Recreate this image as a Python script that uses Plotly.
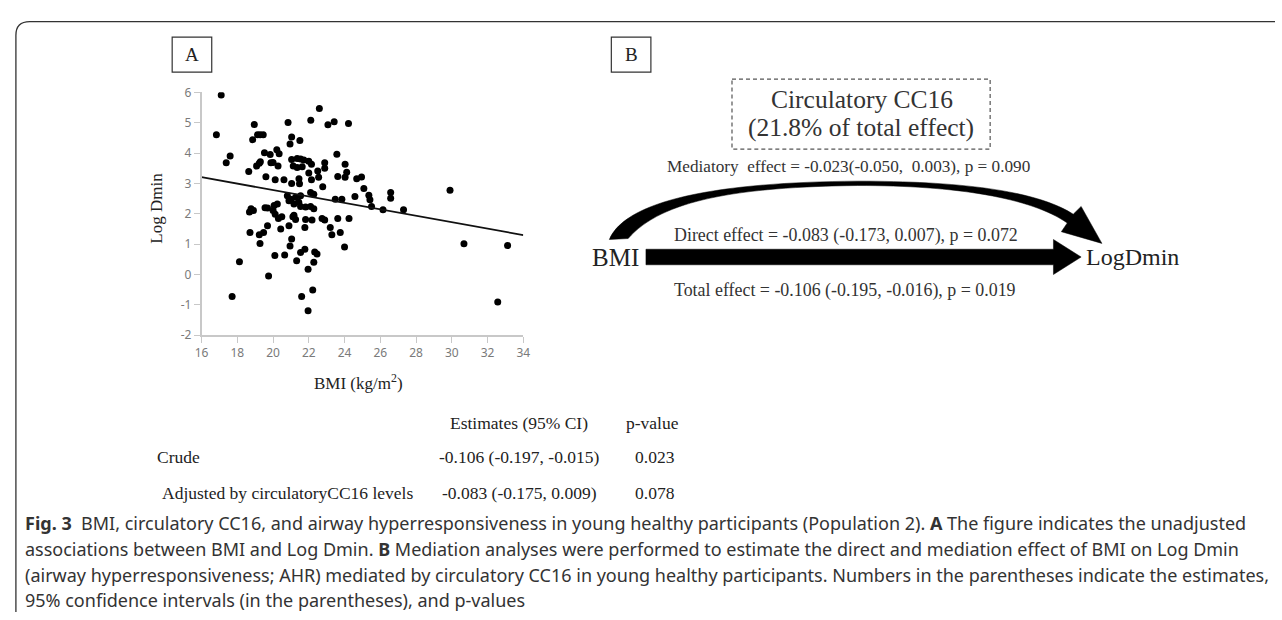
import plotly.graph_objects as go

W, H = 1282, 620

# ---------------- data ----------------
bmi = [17.1, 16.83, 18.95, 18.86, 19.13, 19.28, 19.45, 20.84, 21.04, 20.95, 21.5, 22.11, 22.59, 23.07, 23.42, 24.22,
       17.38, 17.6, 18.64, 19.08, 19.23, 19.29, 19.52, 19.84, 20.21, 20.34, 19.88, 20.0, 20.28, 21.04, 21.35, 21.54,
       21.72, 21.13, 21.35, 21.63, 22.0, 22.15, 23.57, 19.6, 20.12, 20.61, 21.04, 21.45, 21.48, 22.0, 22.15, 22.5,
       22.89, 22.89, 22.55, 24.03, 24.12, 24.03, 23.62, 24.68, 24.95, 22.78, 25.08, 25.36, 25.42, 24.58, 26.58, 26.58,
       22.1, 22.28, 21.54, 23.48, 23.85, 25.51, 26.15, 27.3, 22.28, 21.82, 29.9, 30.68, 33.12, 32.57,
       20.8, 20.99, 21.26, 21.44, 21.17, 20.89, 18.77, 18.68, 19.69, 20.06, 20.24, 18.9, 19.55, 20.0, 20.12, 20.3,
       20.49, 21.17, 21.26, 21.11, 21.82, 21.78, 21.54, 19.69, 18.71, 19.23, 19.47, 19.27, 20.43, 20.89, 21.04, 20.95,
       20.1, 20.65, 21.54, 21.78, 21.32, 18.12, 19.75, 17.71, 21.6, 21.96, 21.96, 22.1, 22.18, 22.74, 22.89, 23.62,
       24.25, 23.2, 23.76, 23.29, 24.0, 22.33, 22.46, 22.28, 22.22]
log_dmin = [5.91, 4.6, 4.94, 4.44, 4.6, 4.6, 4.6, 5.01, 4.53, 4.3, 4.41, 5.08, 5.47, 4.93, 5.03, 4.97,
            3.68, 3.9, 3.39, 3.57, 3.66, 3.71, 4.01, 3.95, 4.11, 3.98, 3.68, 3.69, 3.57, 3.79, 3.82, 3.8,
            3.77, 3.57, 3.52, 3.55, 3.73, 3.63, 3.96, 3.22, 3.12, 3.12, 3.0, 3.15, 2.99, 3.34, 3.12, 3.41,
            3.68, 3.5, 3.2, 3.63, 3.37, 3.2, 3.23, 3.15, 3.21, 2.89, 2.83, 2.61, 2.46, 2.57, 2.7, 2.51,
            2.7, 2.64, 2.59, 2.48, 2.48, 2.24, 2.13, 2.13, 2.16, 2.22, 2.77, 1.01, 0.95, -0.91,
            2.59, 2.48, 2.54, 2.38, 2.32, 2.43, 2.16, 2.06, 2.19, 2.27, 2.32, 2.11, 2.2, 2.11, 1.98, 1.84,
            1.9, 1.95, 1.81, 1.9, 1.81, 1.55, 2.24, 1.6, 1.38, 1.31, 1.38, 1.02, 1.5, 1.6, 1.17, 0.94,
            0.62, 0.64, 0.72, 0.83, 0.45, 0.42, -0.05, -0.73, -0.73, 0.17, -1.2, 2.24, 1.79, 1.84, 1.79, 1.84,
            1.84, 1.55, 1.38, 1.31, 0.9, 0.74, 0.67, 0.4, -0.51]

fit_intercept = 4.90
fit_slope = -0.106
x_ticks = [16, 18, 20, 22, 24, 26, 28, 30, 32, 34]
y_ticks = [-2, -1, 0, 1, 2, 3, 4, 5, 6]
y_tick_labels = ["-2", "-1", "0", "1", "2", "3", "4", "5", "6"]

table_header = ["Estimates (95% CI)", "p-value"]
table_rows = ["Crude", "Adjusted by circulatoryCC16 levels"]
table_est = ["-0.106 (-0.197, -0.015)", "-0.083 (-0.175, 0.009)"]
table_p = ["0.023", "0.078"]

mediator_lines = ["Circulatory CC16", "(21.8% of total effect)"]
mediatory_txt = "Mediatory  effect = -0.023(-0.050,  0.003), p = 0.090"
direct_txt = "Direct effect = -0.083 (-0.173, 0.007), p = 0.072"
total_txt = "Total effect = -0.106 (-0.195, -0.016), p = 0.019"

caption = [
    "<b>Fig. 3</b>  BMI, circulatory CC16, and airway hyperresponsiveness in young healthy participants (Population 2). <b>A</b> The figure indicates the unadjusted",
    "associations between BMI and Log Dmin. <b>B</b> Mediation analyses were performed to estimate the direct and mediation effect of BMI on Log Dmin",
    "(airway hyperresponsiveness; AHR) mediated by circulatory CC16 in young healthy participants. Numbers in the parentheses indicate the estimates,",
    "95% confidence intervals (in the parentheses), and p-values",
]

# ---------------- helpers ----------------
def fx(x):
    return x / W

def fy(y):
    return 1 - y / H

def path(cmds):
    out = []
    for c, pts in cmds:
        s = c
        if pts:
            s += " " + " ".join(f"{fx(x):.5f},{fy(y):.5f}" for x, y in pts)
        out.append(s)
    return " ".join(out)

SERIF = "Liberation Serif, Times New Roman, serif"
SANS = "Noto Sans, Open Sans, sans-serif"
TXT = "#222"

fig = go.Figure()

fig.add_trace(go.Scatter(x=bmi, y=log_dmin, mode="markers",
                         marker=dict(color="black", size=7), hoverinfo="skip"))
lx0, lx1 = x_ticks[0], x_ticks[-1]
fig.add_trace(go.Scatter(x=[lx0, lx1], y=[fit_intercept + fit_slope * lx0, fit_intercept + fit_slope * lx1],
                         mode="lines", line=dict(color="#111", width=1.8), hoverinfo="skip"))

x_left, x_right = 196.7, 522.0
y_top, y_bot = 85.7, 335.3

axis_common = dict(showline=True, linecolor="#c8c8c8", linewidth=1.5, ticks="outside", ticklen=6,
                   tickcolor="#c8c8c8", tickwidth=1.2, showgrid=False, zeroline=False,
                   tickfont=dict(family=SANS, size=12, color="#7a7a7a"), fixedrange=True)

fig.update_layout(
    width=W, height=H, margin=dict(l=0, r=0, t=0, b=0),
    paper_bgcolor="white", plot_bgcolor="rgba(0,0,0,0)", showlegend=False,
    xaxis=dict(domain=[fx(x_left), fx(x_right)], range=[16, 34], tickvals=x_ticks, **axis_common),
    yaxis=dict(domain=[fy(y_bot), fy(y_top)], range=[-2, 6], tickvals=y_ticks, ticktext=y_tick_labels,
               **axis_common),
)

shapes = []
annots = []

def txt(x, y, s, size, family=SERIF, color=TXT, xanchor="center", **kw):
    annots.append(dict(x=fx(x), y=fy(y), xref="paper", yref="paper", text=s, showarrow=False,
                       xanchor=xanchor, yanchor="middle", font=dict(family=family, size=size, color=color), **kw))

# outer frame
shapes.append(dict(type="path", xref="paper", yref="paper",
                   path=path([("M", [(9, 620)]), ("L", [(9, 27)]), ("Q", [(9, 13), (23, 13)]), ("L", [(1282, 13)])]),
                   line=dict(color="#333", width=1.3)))

# panel labels
for (x0, lab) in [(167, "A"), (611, "B")]:
    shapes.append(dict(type="rect", xref="paper", yref="paper", x0=fx(x0), x1=fx(x0 + 40), y0=fy(29), y1=fy(65),
                       line=dict(color="#333", width=1.2)))
    txt(x0 + 20, 47, lab, 19)

# axis titles
txt(151, 205, "Log Dmin", 17, textangle=-90)
txt(355, 384, "BMI (kg/m<sup>2</sup>)", 17)

# table
txt(518, 426, table_header[0], 17.5)
txt(653, 426, table_header[1], 17.5)
row_y = [461, 498]
for i in range(2):
    txt(150 if i == 0 else 155, row_y[i], table_rows[i], 17.5, xanchor="left")
    txt(518, row_y[i], table_est[i], 17.5)
    txt(655, row_y[i], table_p[i], 17.5)

# panel B
shapes.append(dict(type="rect", xref="paper", yref="paper", x0=fx(733), x1=fx(994), y0=fy(72), y1=fy(144),
                   line=dict(color="#555", width=1.2, dash="4px,3px")))
txt(864, 93, mediator_lines[0], 25.5, color="#333")
txt(863, 122, mediator_lines[1], 25.5, color="#333")
txt(851, 162, mediatory_txt, 17.2, color="#333")
txt(848, 233, direct_txt, 17.9, color="#333")
txt(847, 289, total_txt, 17.9, color="#333")
txt(615, 255, "BMI", 25, color="#222")
txt(1089, 255, "LogDmin", 24, color="#222", xanchor="left")

# curved arrow (filled, tapered)
shapes.append(dict(type="path", xref="paper", yref="paper",
                   path=path([("M", [(609, 237)]),
                              ("C", [(626, 196), (720, 178), (860, 177)]),
                              ("C", [(960, 177), (1040, 186), (1078, 211)]),
                              ("L", [(1086, 203)]), ("L", [(1107, 241)]), ("L", [(1066, 229)]), ("L", [(1072, 220)]),
                              ("C", [(1035, 194), (960, 181.5), (860, 181.5)]),
                              ("C", [(740, 183), (662, 196), (628, 236)]),
                              ("Z", [])]),
                   fillcolor="black", line=dict(color="black", width=0.5)))

# straight arrow
shapes.append(dict(type="path", xref="paper", yref="paper",
                   path=path([("M", [(646, 247)]), ("L", [(1058, 247)]), ("L", [(1058, 237)]), ("L", [(1086, 255)]),
                              ("L", [(1058, 273)]), ("L", [(1058, 263)]), ("L", [(646, 263)]), ("Z", [])]),
                   fillcolor="black", line=dict(color="black", width=0.5)))

# caption
cap_y = [528, 555, 582, 608]
for s, y in zip(caption, cap_y):
    txt(16, y, s, 18.0, family=SANS, color="#333", xanchor="left")

fig.update_layout(shapes=shapes, annotations=annots)
fig.write_html("out.html", config={"displayModeBar": False},
               post_script="document.body.style.margin='0';document.body.style.overflow='hidden';")
